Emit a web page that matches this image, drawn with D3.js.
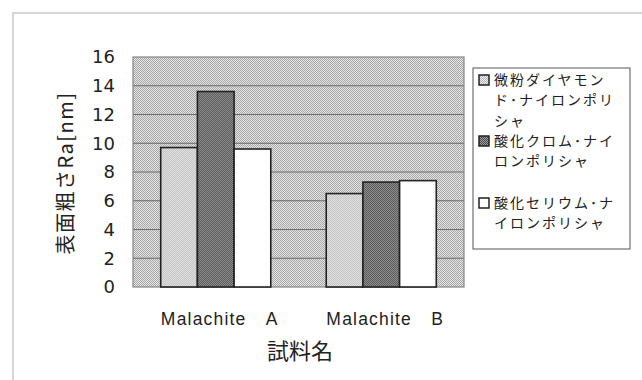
<!DOCTYPE html>
<html>
<head>
<meta charset="utf-8">
<script src="https://cdn.jsdelivr.net/npm/d3@7"></script>
<style>
  body { margin: 0; background: #fff; }
  svg { display: block; font-family: "Noto Sans CJK JP", "DejaVu Sans", sans-serif; }
</style>
</head>
<body>
<svg id="chart"></svg>
<script>
// data
const categories = ['Malachite\u3000A', 'Malachite\u3000B'];
const seriesNames = ['微粉ダイヤモンド・ナイロンポリシャ', '酸化クロム・ナイロンポリシャ', '酸化セリウム・ナイロンポリシャ'];
const legendLines = [
    ['微粉ダイヤモン', 'ド･ナイロンポリ', 'シャ'],
    ['酸化クロム･ナイ', 'ロンポリシャ'],
    ['酸化セリウム･ナ', 'イロンポリシャ']
];
const diamondValues = [9.7, 6.5];
const chromiumValues = [13.6, 7.3];
const ceriumValues = [9.6, 7.4];
const yTicks = [0, 2, 4, 6, 8, 10, 12, 14, 16];
const yTitle = '表面粗さRa[nm]';
const xTitle = '試料名';

const W = 642, H = 380;
const plot = { left: 133, top: 57, right: 464, bottom: 287 };

const svg = d3.select('#chart').attr('width', W).attr('height', H);

// dither patterns
const defs = svg.append('defs');
function dither(id, a, b) {
    const p = defs.append('pattern').attr('id', id).attr('width', 2).attr('height', 2)
        .attr('patternUnits', 'userSpaceOnUse');
    p.append('rect').attr('width', 2).attr('height', 2).attr('fill', b);
    p.append('rect').attr('width', 1).attr('height', 1).attr('fill', a);
    p.append('rect').attr('x', 1).attr('y', 1).attr('width', 1).attr('height', 1).attr('fill', a);
}
dither('bgPat', '#a8a8a8', '#e4e4e4');
dither('p0', '#b8b8b8', '#ececec');
dither('p1', '#444', '#a4a4a4');
const fills = ['url(#p0)', 'url(#p1)', '#ffffff'];

// outer frame
svg.append('path').attr('d', `M13,${H} L13,13 L${W},13`).attr('fill', 'none')
    .attr('stroke', '#c8c8c8').attr('stroke-width', 1.5);

const data = categories.map((c, i) => ({
    cat: c,
    vals: [diamondValues[i], chromiumValues[i], ceriumValues[i]]
}));

const x0 = d3.scaleBand().domain(categories).range([plot.left, plot.right])
    .paddingInner(0.335).paddingOuter(0.1675);
const x1 = d3.scaleBand().domain(d3.range(seriesNames.length)).range([0, x0.bandwidth()]);
const y = d3.scaleLinear().domain([0, 16]).range([plot.bottom, plot.top]);

// plot area
svg.append('rect').attr('x', plot.left).attr('y', plot.top)
    .attr('width', plot.right - plot.left).attr('height', plot.bottom - plot.top)
    .attr('fill', 'url(#bgPat)');

svg.append('g').selectAll('line').data(yTicks.slice(1, -1)).join('line')
    .attr('x1', plot.left).attr('x2', plot.right)
    .attr('y1', d => y(d)).attr('y2', d => y(d))
    .attr('stroke', '#6a6a6a').attr('stroke-width', 1);

svg.append('rect').attr('x', plot.left).attr('y', plot.top)
    .attr('width', plot.right - plot.left).attr('height', plot.bottom - plot.top)
    .attr('fill', 'none').attr('stroke', '#888').attr('stroke-width', 1.2);

// bars
const groups = svg.append('g').selectAll('g').data(data).join('g')
    .attr('transform', d => `translate(${x0(d.cat)},0)`);
groups.selectAll('rect').data(d => d.vals.map((v, i) => ({ v, i }))).join('rect')
    .attr('x', d => x1(d.i)).attr('width', x1.bandwidth())
    .attr('y', d => y(d.v)).attr('height', d => y(0) - y(d.v))
    .attr('fill', d => fills[d.i]).attr('stroke', '#222').attr('stroke-width', 1.6);

// y axis
const yAxis = d3.axisLeft(y).tickValues(yTicks).tickSize(0).tickPadding(18);
const yG = svg.append('g').attr('transform', `translate(${plot.left},0)`).call(yAxis);
yG.select('.domain').remove();
yG.selectAll('text').attr('font-size', 18).attr('fill', '#222')
    .attr('font-family', '"Liberation Sans Narrow", "DejaVu Sans", sans-serif');

// x axis labels
const xAxis = d3.axisBottom(x0).tickSize(0).tickPadding(26);
const xG = svg.append('g').attr('transform', `translate(0,${plot.bottom})`).call(xAxis);
xG.select('.domain').remove();
xG.selectAll('text').attr('font-size', 17.5).attr('fill', '#222').attr('dx', 4)
    .attr('letter-spacing', 1.2);

// axis titles
svg.append('text').attr('transform', 'translate(73,173) rotate(-90)')
    .attr('text-anchor', 'middle').attr('font-size', 20).attr('letter-spacing', 1.5)
    .attr('fill', '#222').text(yTitle);
svg.append('text').attr('x', 300).attr('y', 359).attr('text-anchor', 'middle')
    .attr('font-size', 22).attr('fill', '#222').text(xTitle);

// legend
const legend = svg.append('g');
legend.append('rect').attr('x', 473).attr('y', 68).attr('width', 157).attr('height', 181)
    .attr('fill', '#fff').attr('stroke', '#555').attr('stroke-width', 1);
const legendTop = [80, 141, 203];
const lineH = 20.5;
legendLines.forEach((lines, i) => {
    legend.append('rect').attr('x', 479).attr('y', legendTop[i] - 5).attr('width', 10).attr('height', 10)
        .attr('fill', fills[i]).attr('stroke', '#222').attr('stroke-width', 1.5);
    lines.forEach((ln, j) => {
        legend.append('text').attr('x', 494).attr('y', legendTop[i] + j * lineH)
            .attr('dy', '0.35em').attr('font-size', 14).attr('letter-spacing', 2)
            .attr('fill', '#222').text(ln);
    });
});
</script>
</body>
</html>
